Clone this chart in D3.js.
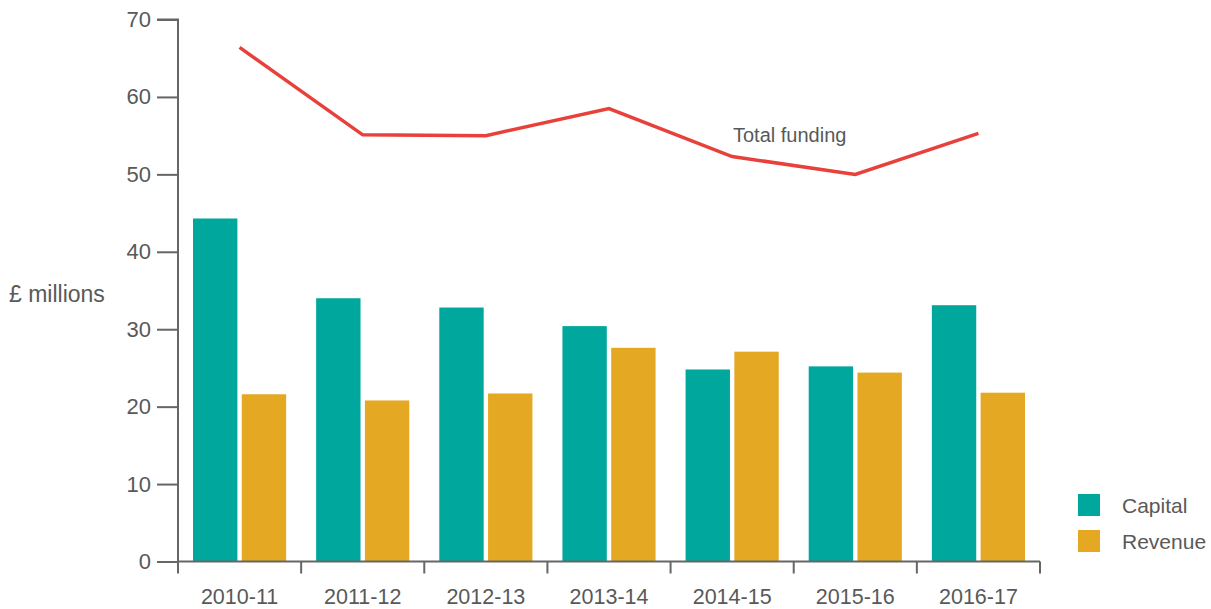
<!DOCTYPE html>
<html><head><meta charset="utf-8">
<script src="https://cdn.jsdelivr.net/npm/d3@7"></script>
<style>
body{margin:0;background:#fff;}
svg text{font-family:"Liberation Sans",Arial,sans-serif;fill:#595959;}
</style></head>
<body><svg id="c" width="1211" height="609"></svg>
<script>
const years = ["2010-11","2011-12","2012-13","2013-14","2014-15","2015-16","2016-17"];
const capital = [44.3,34.0,32.8,30.4,24.8,25.2,33.1];
const revenue = [21.6,20.8,21.7,27.6,27.1,24.4,21.8];
const total = [66.4,55.1,55.0,58.5,52.3,50.0,55.3];
const yTicks = [0,10,20,30,40,50,60,70];
const seriesNames = ["Capital","Revenue"];
const colors = ["#00a79d","#e5a823"];
const lineColor = "#e8403a";
const axisColor = "#666";

const svg = d3.select("#c");
const x = d3.scaleBand().domain(years).range([178,1040]);
const y = d3.scaleLinear().domain([0,70]).range([561.5,19.5]);
const inner = d3.scaleBand().domain(seriesNames).range([15, x.bandwidth()-15]).paddingInner(0.09);

const data = years.map((yr,i)=>({yr, vals:[capital[i],revenue[i]]}));
const g = svg.append("g");
data.forEach(d=>{
  d.vals.forEach((v,j)=>{
    g.append("rect")
      .attr("x", x(d.yr)+inner(seriesNames[j]))
      .attr("width", inner.bandwidth())
      .attr("y", y(v))
      .attr("height", y(0)-y(v))
      .attr("fill", colors[j]);
  });
});

// Y axis
const ya = svg.append("g").attr("transform","translate(178,0)")
  .call(d3.axisLeft(y).tickValues(yTicks).tickSize(21).tickPadding(6));
ya.select(".domain").attr("stroke",axisColor).attr("stroke-width",2).attr("d","M-21,19.5H0V561.5");
ya.selectAll(".tick line").attr("stroke",axisColor).attr("stroke-width",2);
ya.selectAll(".tick text").attr("font-size",22).attr("fill","#595959");

// X axis
const xa = svg.append("g").attr("transform","translate(0,561.5)")
  .call(d3.axisBottom(x).tickSize(0).tickPadding(0));
xa.select(".domain").remove();
xa.append("line").attr("x1",178).attr("x2",1040).attr("stroke",axisColor).attr("stroke-width",2);
const edges = years.map(yv=>x(yv)).concat([x.range()[1]]);
edges.forEach(e=>{
  xa.append("line").attr("x1",e).attr("x2",e).attr("y1",0).attr("y2",12)
    .attr("stroke",axisColor).attr("stroke-width",2);
});
xa.selectAll(".tick text").attr("font-size",21.5).attr("fill","#595959").attr("dy",0).attr("y",42.5);

// Line
const line = d3.line().x((d,i)=>x(years[i])+x.bandwidth()/2).y(d=>y(d));
svg.append("path").datum(total).attr("d",line).attr("fill","none")
  .attr("stroke",lineColor).attr("stroke-width",3.5).attr("stroke-linejoin","miter");
svg.append("text").attr("x",733).attr("y",142).attr("font-size",20).text("Total funding");

// Y label
svg.append("text").attr("x",9).attr("y",302).attr("font-size",23).text("£ millions");

// Legend
seriesNames.forEach((n,i)=>{
  svg.append("rect").attr("x",1078).attr("y",494+i*36).attr("width",22).attr("height",22).attr("fill",colors[i]);
  svg.append("text").attr("x",1122).attr("y",513+i*35.5).attr("font-size",21).text(n);
});
</script></body></html>
